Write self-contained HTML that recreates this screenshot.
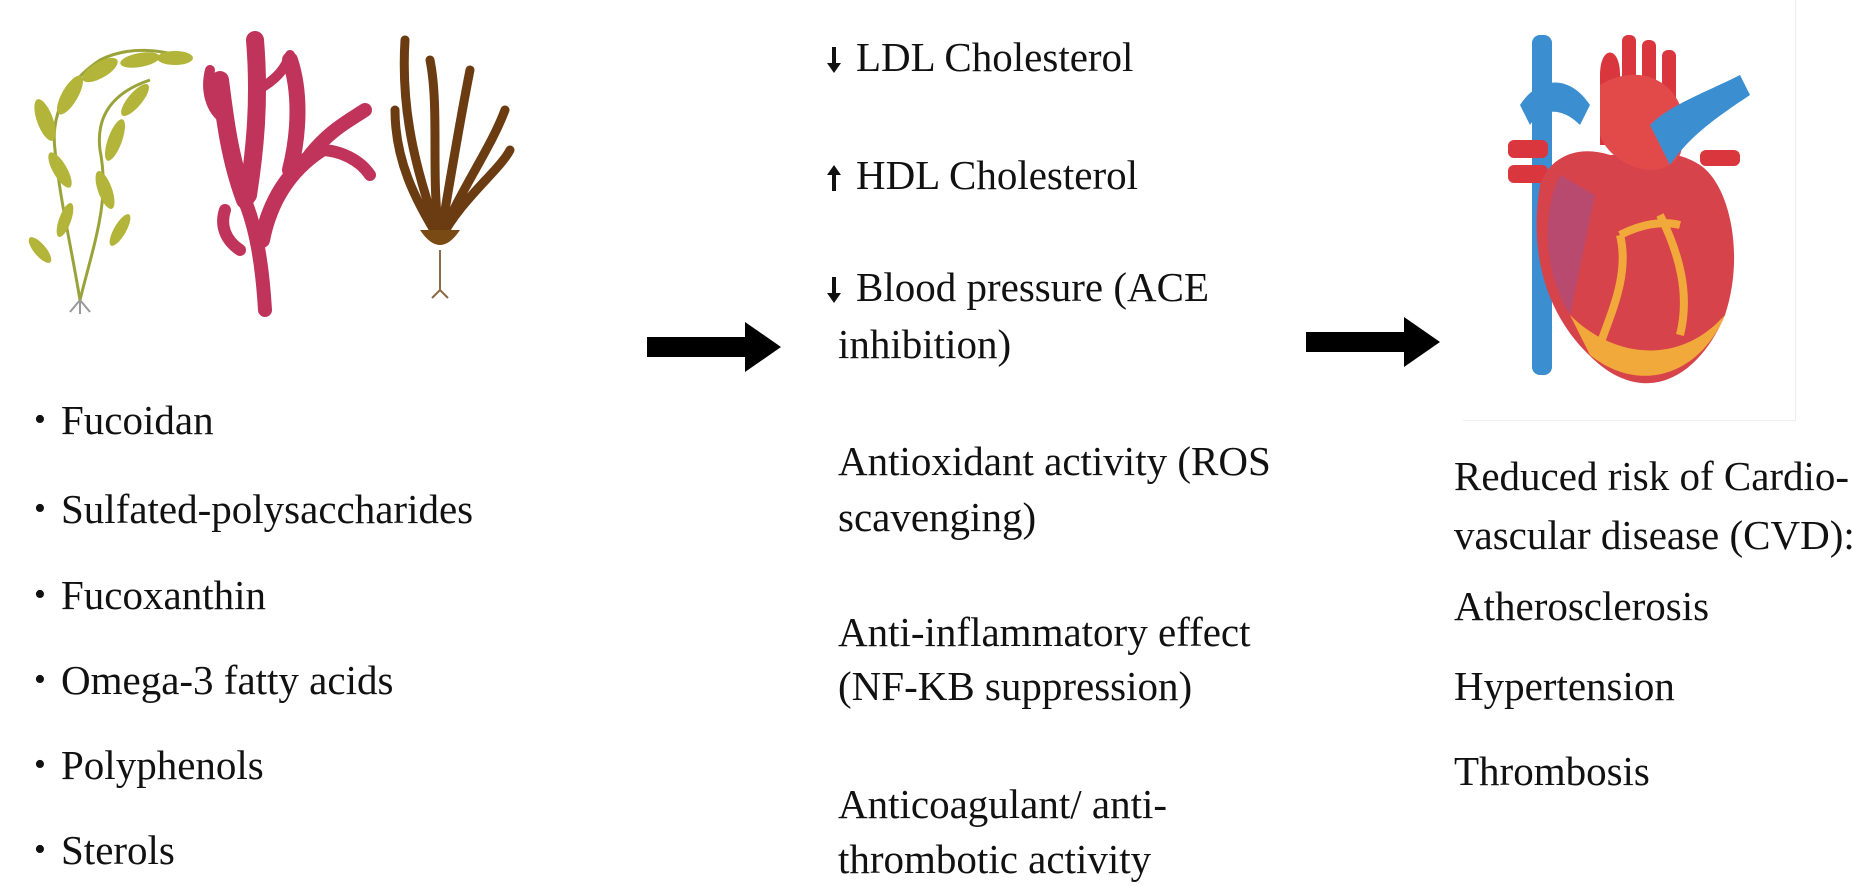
<!DOCTYPE html>
<html><head><meta charset="utf-8"><style>
html,body{margin:0;padding:0;background:#fff;}
#c{position:relative;width:1853px;height:886px;overflow:hidden;background:#fff;font-family:"Liberation Serif","Times New Roman",serif;color:#111;}
.t{position:absolute;font-size:41px;line-height:44px;white-space:nowrap;}
.b{position:absolute;font-size:34px;line-height:44px;}
</style></head><body><div id="c">

<!-- seaweeds -->
<svg style="position:absolute;left:0;top:0" width="540" height="330" viewBox="0 0 540 330">
 <g stroke="#9aa33a" stroke-width="3" fill="none">
  <path d="M80 300 C70 240 60 200 55 150 C50 110 70 80 100 60 C130 45 160 50 190 58"/>
  <path d="M80 300 C95 240 110 200 100 150 C95 110 120 90 150 80"/>
 </g>
 <g fill="#b3b43a">
  <ellipse cx="45" cy="120" rx="8" ry="22" transform="rotate(-20 45 120)"/>
  <ellipse cx="70" cy="95" rx="8" ry="22" transform="rotate(30 70 95)"/>
  <ellipse cx="100" cy="70" rx="8" ry="20" transform="rotate(60 100 70)"/>
  <ellipse cx="140" cy="60" rx="7" ry="20" transform="rotate(80 140 60)"/>
  <ellipse cx="175" cy="58" rx="7" ry="18" transform="rotate(90 175 58)"/>
  <ellipse cx="60" cy="170" rx="7" ry="20" transform="rotate(-30 60 170)"/>
  <ellipse cx="115" cy="140" rx="7" ry="22" transform="rotate(20 115 140)"/>
  <ellipse cx="105" cy="190" rx="7" ry="20" transform="rotate(-20 105 190)"/>
  <ellipse cx="65" cy="220" rx="6" ry="18" transform="rotate(20 65 220)"/>
  <ellipse cx="120" cy="230" rx="6" ry="18" transform="rotate(30 120 230)"/>
  <ellipse cx="135" cy="100" rx="7" ry="20" transform="rotate(40 135 100)"/>
  <ellipse cx="40" cy="250" rx="6" ry="16" transform="rotate(-40 40 250)"/>
 </g>
 <path d="M80 300 l-10 12 M80 300 l10 12 M80 300 l0 14" stroke="#999" stroke-width="2"/>
 <!-- red: branching -->
 <g stroke="#c0335a" stroke-linecap="round" fill="none">
  <path d="M265 310 C262 260 255 220 240 190" stroke-width="14"/>
  <path d="M262 240 C270 200 290 170 320 150" stroke-width="16"/>
  <path d="M245 200 C230 160 225 120 220 80" stroke-width="18"/>
  <path d="M248 195 C255 150 260 100 255 40" stroke-width="18"/>
  <path d="M290 170 C300 130 300 90 290 60" stroke-width="16"/>
  <path d="M310 155 C330 130 350 120 365 110" stroke-width="14"/>
  <path d="M320 150 C340 150 360 160 370 175" stroke-width="12"/>
  <path d="M240 250 C225 240 220 225 225 210" stroke-width="12"/>
  <path d="M225 120 C210 110 205 90 210 70" stroke-width="10"/>
  <path d="M258 90 C275 80 285 70 290 55" stroke-width="10"/>
 </g>
 <!-- brown -->
 <g stroke="#6b3b12" stroke-width="9" fill="none" stroke-linecap="round">
  <path d="M440 240 C420 180 400 120 405 40"/>
  <path d="M440 240 C430 180 440 110 430 60"/>
  <path d="M440 240 C450 180 460 120 470 70"/>
  <path d="M440 240 C460 190 490 150 505 110"/>
  <path d="M440 240 C460 200 500 170 510 150"/>
  <path d="M440 240 C415 200 395 160 395 110"/>
 </g>
 <path d="M420 230 Q440 260 460 230 Z" fill="#7a4a14"/>
 <path d="M440 250 L440 290 M440 290 l-8 8 M440 290 l8 8" stroke="#8a6a4a" stroke-width="2"/>
</svg>

<!-- bullets -->
<div class="b" style="left:34px;top:398px">•</div><div class="t" style="left:61px;top:398px">Fucoidan</div>
<div class="b" style="left:34px;top:487px">•</div><div class="t" style="left:61px;top:487px">Sulfated-polysaccharides</div>
<div class="b" style="left:34px;top:573px">•</div><div class="t" style="left:61px;top:573px">Fucoxanthin</div>
<div class="b" style="left:34px;top:658px">•</div><div class="t" style="left:61px;top:658px">Omega-3 fatty acids</div>
<div class="b" style="left:34px;top:743px">•</div><div class="t" style="left:61px;top:743px">Polyphenols</div>
<div class="b" style="left:34px;top:828px">•</div><div class="t" style="left:61px;top:828px">Sterols</div>

<!-- big arrows -->
<svg style="position:absolute;left:645px;top:320px" width="140" height="54"><path d="M2 17 H100 V2 L136 27 L100 52 V37 H2 Z" fill="#000"/></svg>
<svg style="position:absolute;left:1304px;top:315px" width="140" height="54"><path d="M2 17 H100 V2 L136 27 L100 52 V37 H2 Z" fill="#000"/></svg>

<!-- small arrows -->
<svg style="position:absolute;left:824px;top:45px" width="20" height="30"><path d="M8 2 H12 V18 H17 L10 28 L3 18 H8 Z" fill="#111"/></svg>
<svg style="position:absolute;left:824px;top:163px" width="20" height="30"><path d="M8 28 H12 V12 H17 L10 2 L3 12 H8 Z" fill="#111"/></svg>
<svg style="position:absolute;left:824px;top:275px" width="20" height="30"><path d="M8 2 H12 V18 H17 L10 28 L3 18 H8 Z" fill="#111"/></svg>

<!-- middle text -->
<div class="t" style="left:856px;top:35px">LDL Cholesterol</div>
<div class="t" style="left:856px;top:153px">HDL Cholesterol</div>
<div class="t" style="left:856px;top:265px">Blood pressure (ACE</div>
<div class="t" style="left:838px;top:322px">inhibition)</div>
<div class="t" style="left:838px;top:439px">Antioxidant activity (ROS</div>
<div class="t" style="left:838px;top:495px">scavenging)</div>
<div class="t" style="left:838px;top:610px">Anti-inflammatory effect</div>
<div class="t" style="left:838px;top:664px">(NF-KB suppression)</div>
<div class="t" style="left:838px;top:782px">Anticoagulant/ anti-</div>
<div class="t" style="left:838px;top:837px">thrombotic activity</div>

<!-- heart -->
<div style="position:absolute;left:1463px;top:0;width:332px;height:420px;border-right:1px solid #eee;border-bottom:1px solid #eee;"></div>
<svg style="position:absolute;left:1500px;top:15px" width="260" height="380" viewBox="0 0 260 380">
 <rect x="32" y="20" width="20" height="340" rx="8" fill="#3b8fd0"/>
 <path d="M100 60 C100 30 120 30 120 60 L120 130 L100 130 Z" fill="#d9363e"/>
 <rect x="122" y="20" width="14" height="60" rx="6" fill="#d9363e"/>
 <rect x="142" y="25" width="14" height="60" rx="6" fill="#d9363e"/>
 <rect x="162" y="35" width="14" height="60" rx="6" fill="#d9363e"/>
 <rect x="8" y="125" width="40" height="18" rx="6" fill="#d9363e"/>
 <rect x="8" y="150" width="40" height="18" rx="6" fill="#d9363e"/>
 <rect x="200" y="135" width="40" height="16" rx="6" fill="#d9363e"/>
 <path d="M40 170 C30 230 40 300 100 350 C150 390 200 360 225 300 C245 240 230 170 200 150 C170 130 130 140 110 140 C80 130 50 140 40 170 Z" fill="#d7434b"/>
 <path d="M60 160 C40 200 45 260 70 300 L95 180 Z" fill="#b84a70"/>
 <path d="M100 70 C150 40 200 80 180 140 C160 170 110 150 100 120 Z" fill="#e24a4a"/>
 <path d="M150 110 C170 90 200 80 240 60 L250 80 C220 100 190 120 170 150 Z" fill="#3b8fd0"/>
 <path d="M20 90 C40 60 70 60 90 90 L80 110 C60 90 40 95 30 110 Z" fill="#3b8fd0"/>
 <path d="M120 220 C130 260 110 300 100 330 M160 200 C180 240 190 280 180 320 M120 220 C140 210 160 205 180 210" stroke="#f2a93b" stroke-width="8" fill="none"/>
 <path d="M70 300 C110 340 170 350 215 310 L225 300 C200 360 140 380 90 340 Z" fill="#f2a93b"/>
</svg>

<!-- right text -->
<div class="t" style="left:1454px;top:454px">Reduced risk of Cardio-</div>
<div class="t" style="left:1454px;top:513px">vascular disease (CVD):</div>
<div class="t" style="left:1454px;top:584px">Atherosclerosis</div>
<div class="t" style="left:1454px;top:664px">Hypertension</div>
<div class="t" style="left:1454px;top:749px">Thrombosis</div>

</div></body></html>
